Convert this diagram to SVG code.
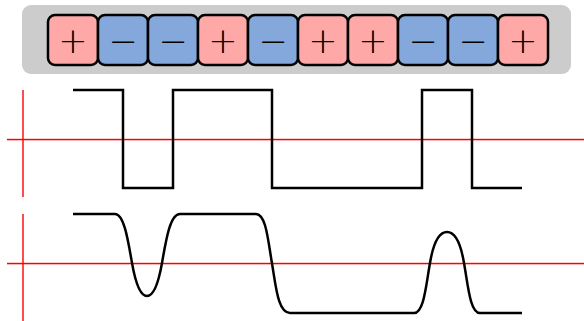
<svg xmlns="http://www.w3.org/2000/svg" width="584" height="321" viewBox="0 0 584 321">
  <style>
    .cell { stroke: #000; stroke-width: 2.5; }
    .pos { fill: #ffa8a8; }
    .neg { fill: #84a8dc; }
    .sym { font-family: "DejaVu Sans", "Liberation Sans", sans-serif; font-weight: 200; font-size: 35px; text-anchor: middle; fill: #000; }
    .axis { fill: #ff0000; stroke: none; }
    .wave { stroke: #000; stroke-width: 2.5; fill: none; stroke-linejoin: miter; }
  </style>

  <!-- bit strip -->
  <rect x="22" y="5" width="549" height="69" rx="9" fill="#cccccc"/>
  <g id="b1"><rect class="cell pos" x="48" y="15" width="50" height="50" rx="7"/><text class="sym" x="73" y="52.5">+</text></g>
  <g id="b2"><rect class="cell neg" x="98" y="15" width="50" height="50" rx="7"/><text class="sym" x="123" y="52.5">−</text></g>
  <g id="b3"><rect class="cell neg" x="148" y="15" width="50" height="50" rx="7"/><text class="sym" x="173" y="52.5">−</text></g>
  <g id="b4"><rect class="cell pos" x="198" y="15" width="50" height="50" rx="7"/><text class="sym" x="223" y="52.5">+</text></g>
  <g id="b5"><rect class="cell neg" x="248" y="15" width="50" height="50" rx="7"/><text class="sym" x="273" y="52.5">−</text></g>
  <g id="b6"><rect class="cell pos" x="298" y="15" width="50" height="50" rx="7"/><text class="sym" x="323" y="52.5">+</text></g>
  <g id="b7"><rect class="cell pos" x="348" y="15" width="50" height="50" rx="7"/><text class="sym" x="373" y="52.5">+</text></g>
  <g id="b8"><rect class="cell neg" x="398" y="15" width="50" height="50" rx="7"/><text class="sym" x="423" y="52.5">−</text></g>
  <g id="b9"><rect class="cell neg" x="448" y="15" width="50" height="50" rx="7"/><text class="sym" x="473" y="52.5">−</text></g>
  <g id="b10"><rect class="cell pos" x="498" y="15" width="50" height="50" rx="7"/><text class="sym" x="523" y="52.5">+</text></g>

  <!-- axes -->
  <g id="axes">
    <rect class="axis" x="22.3" y="90" width="1.4" height="107"/>
    <rect class="axis" x="7" y="138.8" width="577" height="1.5"/>
    <rect class="axis" x="22.3" y="214" width="1.4" height="107"/>
    <rect class="axis" x="7" y="262.8" width="577" height="1.5"/>
  </g>

  <!-- ideal square signal -->
  <g id="square">
    <path class="wave" d="M73,90 H123 V188 H173 V90 H272 V188 H422 V90 H472 V188 H522"/>
  </g>

  <!-- band-limited signal -->
  <g id="smooth">
    <path class="wave" d="M73,214 H115 C124,214 128,240 132,263 C135,280 140,296 147,296 C154,296 159,280 162,263 C166,240 170,214 180,214 H256 C266,214 268,240 272,263.5 C276,287 278,313 290,313 H414 C424,313 426,285 430,263 C433,245 438,232 447,232 C456,232 461,245 464,263 C468,285 470,313 480,313 H522"/>
  </g>
</svg>
